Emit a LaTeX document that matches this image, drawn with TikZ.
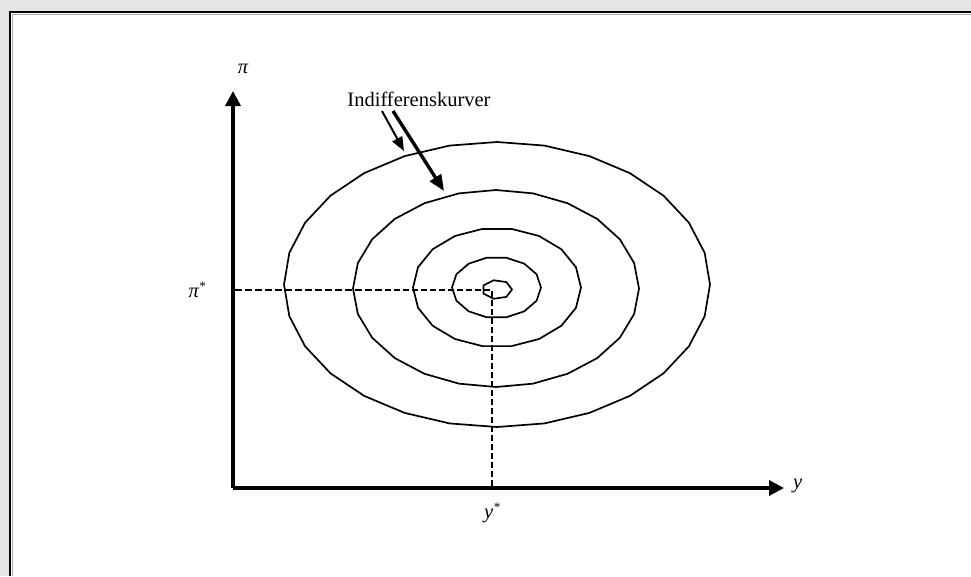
\documentclass[tikz,border=0pt]{standalone}
\usepackage{fontspec}
\setmainfont{Liberation Serif}
\usetikzlibrary{arrows.meta}
\tikzset{
  axis/.style={line width=3.6pt,-{Triangle[width=15pt,length=15pt]}},
  curve/.style={line width=1.7pt,line join=round},
  guide/.style={line width=1.3pt,dash pattern=on 6pt off 3pt},
  guidethick/.style={line width=2.4pt,dash pattern=on 7pt off 3pt},
  lbl/.style={inner sep=0pt,font=\fontsize{20.5}{24}\selectfont},
  pointer/.style={line width=2pt,-{Triangle[width=11pt,length=14pt]}},
  pointerthick/.style={line width=3.4pt,-{Triangle[width=13pt,length=16pt]}}
}
\begin{document}
\begin{tikzpicture}[x=1pt,y=-1pt]
\useasboundingbox (0,0) rectangle (971,576);
\fill[gray!20] (0,0) rectangle (971,576);
\fill[white] (11,13) rectangle (971,576);
\draw[gray!70,line width=1pt] (971,14.5) -- (12.5,14.5) -- (12.5,576);
\draw[line width=1.8pt] (971,12) -- (10,12) -- (10,576);

% axes
\coordinate (O) at (233,488);
\coordinate (ytop) at (233,91);
\coordinate (xend) at (784,488);
\draw[axis] (O) -- (ytop);
\draw[axis] (O) -- (xend);
\node[lbl] (pilab) at (243,69) {\itshape π};
\node[lbl,anchor=west] (ylab) at (793,486) {\itshape y};
\node[lbl] (pistar) at (197,290) {\itshape π\raisebox{0.7ex}{\fontsize{13}{14}\selectfont *}};
\node[lbl] (ystar) at (492,513) {\itshape y\raisebox{0.7ex}{\fontsize{13}{14}\selectfont *}};

% indifference curves (polygonal ellipses)
\draw[curve] plot[domain=0:360,samples=29] ({497+213*cos(\x)},{284.5+142.5*sin(\x)}) -- cycle;
\draw[curve] plot[domain=0:360,samples=25] ({496+143*cos(\x)},{288.5+98.5*sin(\x)}) -- cycle;
\draw[curve] plot[domain=0:360,samples=19] ({497+84*cos(\x)},{287.5+59.5*sin(\x)}) -- cycle;
\draw[curve] plot[domain=0:360,samples=15] ({496.5+44.5*cos(\x)},{287.5+30.5*sin(\x)}) -- cycle;
\draw[curve] plot[domain=0:360,samples=8] ({497+15*cos(\x)},{289.5+9.5*sin(\x)}) -- cycle;

% guide lines
\coordinate (piaxis) at (235,290);
\coordinate (mid) at (385,290);
\coordinate (opt) at (492,290);
\coordinate (yaxis) at (492,487);
\draw[guidethick] (piaxis) -- (mid);
\draw[guide] (mid) -- (opt) -- (yaxis);

% label and pointers
\node[lbl] (title) at (419,99) {Indifferenskurver};
\coordinate (p1s) at (382,111);
\coordinate (p1e) at (404,151);
\coordinate (p2s) at (393,111);
\coordinate (p2e) at (444,191);
\draw[pointer] (p1s) -- (p1e);
\draw[pointerthick] (p2s) -- (p2e);
\end{tikzpicture}
\end{document}
